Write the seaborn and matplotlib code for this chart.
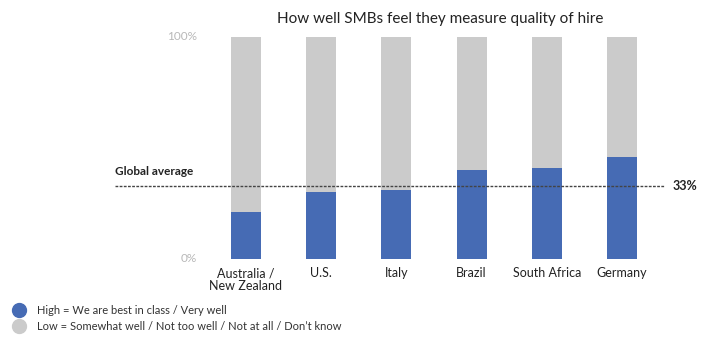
import matplotlib
matplotlib.use("Agg")
import matplotlib.pyplot as plt
from matplotlib.lines import Line2D
import seaborn as sns
import pandas as pd

# Survey data
countries = ["Australia /\nNew Zealand", "U.S.", "Italy", "Brazil", "South Africa", "Germany"]
high_share = [21, 30, 31, 40, 41, 46]
total_share = [100, 100, 100, 100, 100, 100]
global_average = 33
y_tick_labels = ["0%", "100%"]

BLUE = "#466bb4"
GRAY = "#cbcbcb"
TEXT = "#222222"
TICK = "#b8b8b8"

sns.set_theme(style="white")
plt.rcParams["font.family"] = ["Lato", "DejaVu Sans"]

df = pd.DataFrame({"country": countries, "high": high_share, "total": total_share})

fig = plt.figure(figsize=(7.11, 3.39), dpi=100)
ax = fig.add_axes([115 / 711, 80 / 339, 550 / 711, 222 / 339])

sns.barplot(data=df, x="country", y="total", color=GRAY, width=0.4,
            saturation=1, ax=ax, linewidth=0)
sns.barplot(data=df, x="country", y="high", color=BLUE, width=0.4,
            saturation=1, ax=ax, linewidth=0)

ax.set_xlim(-1.742, 5.572)
ax.set_ylim(0, 100)

# Global average reference line
ax.axhline(global_average, color="#444444", lw=1.0, ls=(0, (2, 1)), zorder=5)
ax.text(-1.742, global_average + 4, "Global average", ha="left", va="bottom",
        fontsize=8.5, fontweight="bold", color=TEXT)
ax.text(5.572 + 0.1, global_average, f"{global_average}%", ha="left", va="center",
        fontsize=9, fontweight="bold", color=TEXT, clip_on=False)

# Percent labels on the left
ax.set_yticks([])
for val, lab in zip([0, 100], y_tick_labels):
    ax.text(-0.65, val, lab, ha="right", va="center", fontsize=8.5, color=TICK)

ax.set_xlabel("")
ax.set_ylabel("")
ax.tick_params(axis="x", length=0, pad=6, labelsize=9, labelcolor=TEXT)
for t in ax.get_xticklabels():
    t.set_linespacing(1.05)
for s in ax.spines.values():
    s.set_visible(False)

fig.text(440 / 711, 1 - 19 / 339, "How well SMBs feel they measure quality of hire",
         ha="center", va="center", fontsize=11, color=TEXT)

# Legend drawn as markers plus text
legend_items = [
    (BLUE, "High = We are best in class / Very well", 310),
    (GRAY, "Low = Somewhat well / Not too well / Not at all / Don\u2019t know", 326),
]
for col, lab, ypx in legend_items:
    fig.add_artist(Line2D([19 / 711], [1 - ypx / 339], marker="o", ls="", markersize=10,
                          markerfacecolor=col, markeredgecolor=col, transform=fig.transFigure))
    fig.text(37 / 711, 1 - ypx / 339, lab, ha="left", va="center", fontsize=8, color="#333333")

fig.savefig("out.png", dpi=100)
